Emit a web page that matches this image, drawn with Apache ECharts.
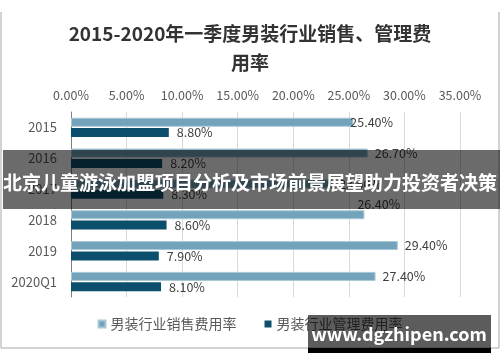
<!DOCTYPE html>
<html>
<head>
<meta charset="utf-8">
<script src="https://cdn.jsdelivr.net/npm/echarts@6/dist/echarts.min.js"></script>
<style>html,body{margin:0;padding:0;background:#fff;}#c{width:500px;height:362px;}</style>
</head>
<body>
<div id="c"></div>
<script>
const categories = ['2015', '2016', '2017', '2018', '2019', '2020Q1'];
const salesRate = [25.4, 26.7, 23.5, 26.4, 29.4, 27.4];
const mgmtRate = [8.8, 8.2, 8.3, 8.6, 7.9, 8.1];
const seriesNames = ['男装行业销售费用率', '男装行业管理费用率'];
const xTicks = [0, 5, 10, 15, 20, 25, 30, 35];
const titleText = '2015-2020年一季度男装行业销售、管理费\n用率';
const bannerText = '北京儿童游泳加盟项目分析及市场前景展望助力投资者决策';
const watermarkText = 'www.dgzhipen.com';

const FONT = '"Noto Sans CJK SC", "Noto Sans", sans-serif';
const fmt = v => Number(v).toFixed(2) + '%';

// per-index label adjustments (presentation only)
const salesLabelOffsets = { 0: [-10, 0], 3: [-14, -10] };

const chart = echarts.init(document.getElementById('c'), null, { renderer: 'canvas' });
chart.setOption({
  backgroundColor: '#fff',
  animation: false,
  textStyle: { fontFamily: FONT },
  title: {
    text: titleText,
    left: 'center',
    top: 14,
    textStyle: { fontSize: 19, fontWeight: 'bold', color: '#333', lineHeight: 29, fontFamily: FONT }
  },
  grid: { left: 71, right: 40, top: 112, bottom: 65 },
  xAxis: {
    type: 'value',
    position: 'top',
    min: xTicks[0],
    max: xTicks[xTicks.length - 1],
    interval: xTicks[1] - xTicks[0],
    axisLine: { show: false },
    axisTick: { show: false },
    axisLabel: { formatter: fmt, color: '#595959', fontSize: 12.5, margin: 10, fontFamily: FONT },
    splitLine: { lineStyle: { color: '#d9d9d9', width: 1 } }
  },
  yAxis: {
    type: 'category',
    inverse: true,
    data: categories,
    axisLine: { lineStyle: { color: '#7f7f7f', width: 1 } },
    axisTick: { show: false },
    axisLabel: { color: '#595959', fontSize: 13, margin: 14, fontFamily: FONT }
  },
  legend: {
    bottom: 26,
    left: 'center',
    icon: 'rect',
    itemWidth: 7,
    itemHeight: 7,
    itemGap: 28,
    textStyle: { color: '#595959', fontSize: 14, fontFamily: FONT },
    data: seriesNames
  },
  series: [
    {
      name: seriesNames[0],
      type: 'bar',
      barWidth: 9,
      barGap: '15%',
      data: salesRate.map((v, i) => salesLabelOffsets[i]
        ? { value: v, label: { offset: salesLabelOffsets[i] } }
        : v),
      itemStyle: { color: '#73a3ba', borderColor: '#a8c7d5', borderWidth: 1 },
      label: { show: true, position: 'right', distance: 7, formatter: p => fmt(p.value), color: '#404040', fontSize: 12.5, fontFamily: FONT }
    },
    {
      name: seriesNames[1],
      type: 'bar',
      barWidth: 9,
      data: mgmtRate,
      itemStyle: { color: '#0b4f6c' },
      label: { show: true, position: 'right', distance: 8, formatter: p => fmt(p.value), color: '#404040', fontSize: 12.5, fontFamily: FONT }
    }
  ],
  graphic: [
    { type: 'line', silent: true, z: 50, shape: { x1: 1, y1: 12, x2: 1, y2: 348 }, style: { stroke: '#a6a6a6', lineWidth: 1 } },
    { type: 'line', silent: true, z: 50, shape: { x1: 499, y1: 12, x2: 499, y2: 348 }, style: { stroke: '#a6a6a6', lineWidth: 1 } },
    { type: 'line', silent: true, z: 50, shape: { x1: 1, y1: 348, x2: 499, y2: 348 }, style: { stroke: '#a6a6a6', lineWidth: 1 } },
    { type: 'rect', silent: true, z: 100, shape: { x: 3, y: 150, width: 497, height: 59 }, style: { fill: 'rgba(0,0,0,0.58)' } },
    { type: 'text', silent: true, z: 101, x: 250, y: 183,
      style: { text: bannerText, fill: '#fff', font: 'bold 19px ' + FONT, textAlign: 'center', textVerticalAlign: 'middle' } },
    { type: 'rect', silent: true, z: 100, shape: { x: 308, y: 315, width: 183, height: 33 }, style: { fill: 'rgba(0,0,0,0.64)' } },
    { type: 'rect', silent: true, z: 100, shape: { x: 308, y: 348, width: 183, height: 5 }, style: { fill: '#000' } },
    { type: 'text', silent: true, z: 101, x: 399, y: 334,
      style: { text: watermarkText, fill: '#fff', font: 'bold 18px ' + FONT, textAlign: 'center', textVerticalAlign: 'middle' } }
  ]
});
</script>
</body>
</html>
